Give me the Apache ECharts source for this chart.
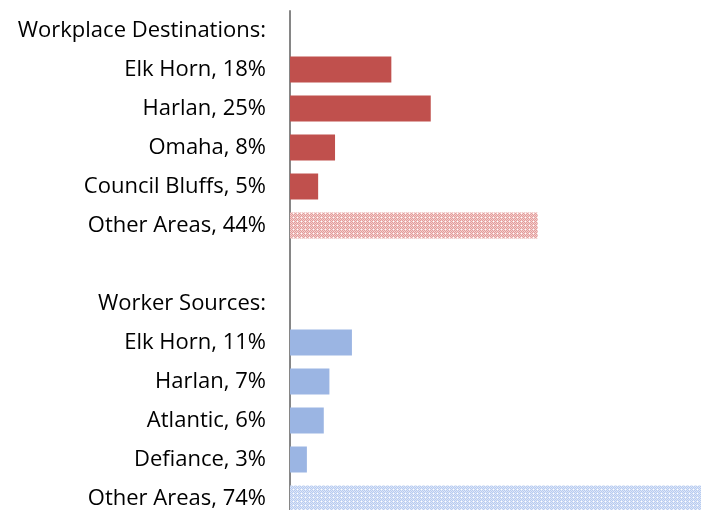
<!DOCTYPE html>
<html>
<head>
<meta charset="utf-8">
<script src="https://cdn.jsdelivr.net/npm/echarts@6/dist/echarts.min.js"></script>
<style>
  html, body { margin: 0; padding: 0; background: #fff; overflow: hidden; }
  #main { width: 701px; height: 518px; }
</style>
</head>
<body>
<div id="main"></div>
<script>
const destHeader = 'Workplace Destinations:';
const destNames = ['Elk Horn', 'Harlan', 'Omaha', 'Council Bluffs', 'Other Areas'];
const destValues = [18, 25, 8, 5, 44];
const sourceHeader = 'Worker Sources:';
const sourceNames = ['Elk Horn', 'Harlan', 'Atlantic', 'Defiance', 'Other Areas'];
const sourceValues = [11, 7, 6, 3, 74];

// small checker pattern for the "Other Areas" bars
function pattern(c1, c2) {
  const cv = document.createElement('canvas');
  cv.width = 4; cv.height = 4;
  const ctx = cv.getContext('2d');
  for (let y = 0; y < 4; y++) {
    for (let x = 0; x < 4; x++) {
      ctx.fillStyle = ((x + y) % 2 === 0) ? c1 : c2;
      if (x % 4 === 1 && y % 4 === 1) ctx.fillStyle = '#ffffff';
      ctx.fillRect(x, y, 1, 1);
    }
  }
  return { image: cv, repeat: 'repeat' };
}

const redSolid = '#C0504D';
const blueSolid = '#9BB5E3';
const redHatch = pattern('#E39C9A', '#F3CFCE');
const blueHatch = pattern('#B7CBF0', '#DCE6F8');

const categories = [destHeader];
const destData = [null];
const srcData = [null];
destNames.forEach(function (n, i) {
  categories.push(n + ', ' + destValues[i] + '%');
  destData.push({
    value: destValues[i],
    itemStyle: { color: n === 'Other Areas' ? redHatch : redSolid }
  });
  srcData.push(null);
});
categories.push('');
destData.push(null); srcData.push(null);
categories.push(sourceHeader);
destData.push(null); srcData.push(null);
sourceNames.forEach(function (n, i) {
  categories.push(n + ', ' + sourceValues[i] + '%');
  srcData.push({
    value: sourceValues[i],
    itemStyle: { color: n === 'Other Areas' ? blueHatch : blueSolid }
  });
  destData.push(null);
});

const myChart = echarts.init(document.getElementById('main'));
const option = {
  animation: false,
  grid: { left: 290, right: 0, top: 11, bottom: 0 },
  xAxis: {
    type: 'value',
    min: 0,
    max: 73,
    show: false
  },
  yAxis: {
    type: 'category',
    inverse: true,
    data: categories,
    axisLine: { show: true, lineStyle: { color: '#868686', width: 2 } },
    axisTick: { show: false },
    axisLabel: {
      margin: 24,
      color: '#000',
      fontFamily: 'Open Sans',
      fontSize: 22
    }
  },
  series: [
    {
      name: 'Workplace Destinations',
      type: 'bar',
      data: destData,
      barWidth: 26,
      barGap: '-100%'
    },
    {
      name: 'Worker Sources',
      type: 'bar',
      data: srcData,
      barWidth: 26,
      barGap: '-100%'
    }
  ]
};
myChart.setOption(option);
window.addEventListener('resize', function () {
  myChart.resize();
}, false);
</script>
</body>
</html>
